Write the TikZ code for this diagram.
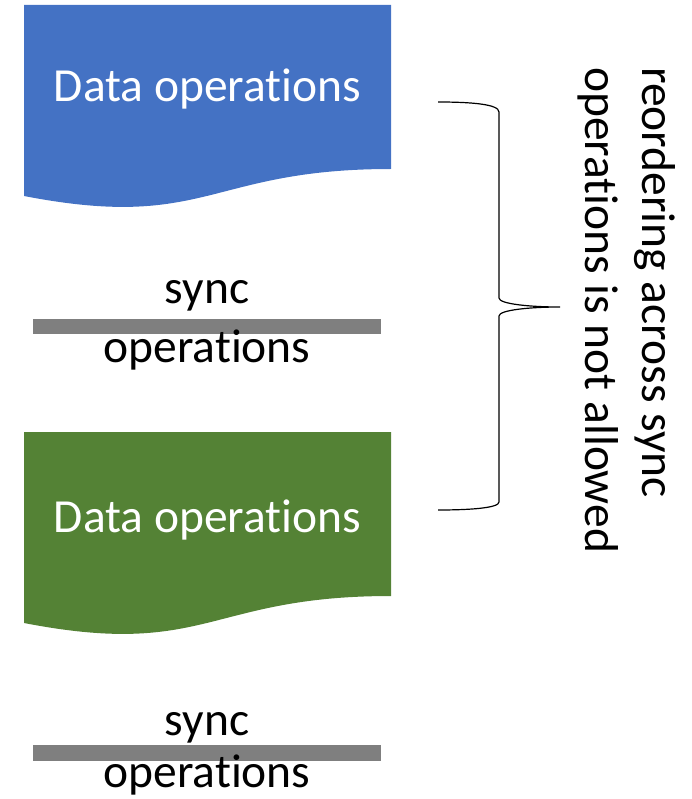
\documentclass[tikz,border=0pt]{standalone}
\usepackage{fontspec}
\setmainfont{Carlito}[Ligatures={NoCommon,NoRequired,NoContextual}]
\definecolor{opblue}{HTML}{4472C4}
\definecolor{opgreen}{HTML}{548235}
\definecolor{syncgray}{HTML}{7F7F7F}
\begin{document}
\begin{tikzpicture}[x=1pt,y=-1pt,
  big/.style={font=\fontsize{47.5}{57}\selectfont, inner sep=0pt},
  whitetxt/.style={big, text=white, anchor=base},
  blacktxt/.style={big, text=black, anchor=base},
  sidetxt/.style={big, text=black, rotate=-90, anchor=base west},
  syncbar/.style={fill=syncgray, draw=none},
  bracestyle/.style={draw=black, line width=1.2pt}
]
\useasboundingbox (0,0) rectangle (691,799);

% blue document shape
\fill[opblue] (24,5) -- (391,5) -- (391,169)
  .. controls (207.5,169) and (207.5,231.5) .. (24,196) -- cycle;
\node[whitetxt] (data1) at (207.5,102) {Data operations};

% first sync bar
\fill[syncbar] (33,319) rectangle (381,334);
\node[blacktxt] (sync1) at (207,303) {sync};
\node[blacktxt] (ops1) at (207,362) {operations};

% green document shape
\fill[opgreen] (24,432) -- (391,432) -- (391,596)
  .. controls (207.5,596) and (207.5,658.5) .. (24,623) -- cycle;
\node[whitetxt] (data2) at (207.5,532) {Data operations};

% second sync bar
\fill[syncbar] (33,745) rectangle (381,761);
\node[blacktxt] (sync2) at (207,735) {sync};
\node[blacktxt] (ops2) at (207,787) {operations};

% brace
\coordinate (btop) at (438,102);
\coordinate (btip) at (560,307);
\coordinate (bbot) at (438,510);
\draw[bracestyle] (btop) .. controls (470,102) and (499,104) .. (499,112)
  -- (499,298) .. controls (499,304) and (530,307) .. (btip)
  .. controls (530,307) and (499,310) .. (499,316)
  -- (499,502) .. controls (499,508) and (470,510) .. (bbot);

% rotated text
\node[sidetxt] (rot1) at (642,67) {reordering across sync};
\node[sidetxt] (rot2) at (585,67) {operations is not allowed};
\end{tikzpicture}
\end{document}
